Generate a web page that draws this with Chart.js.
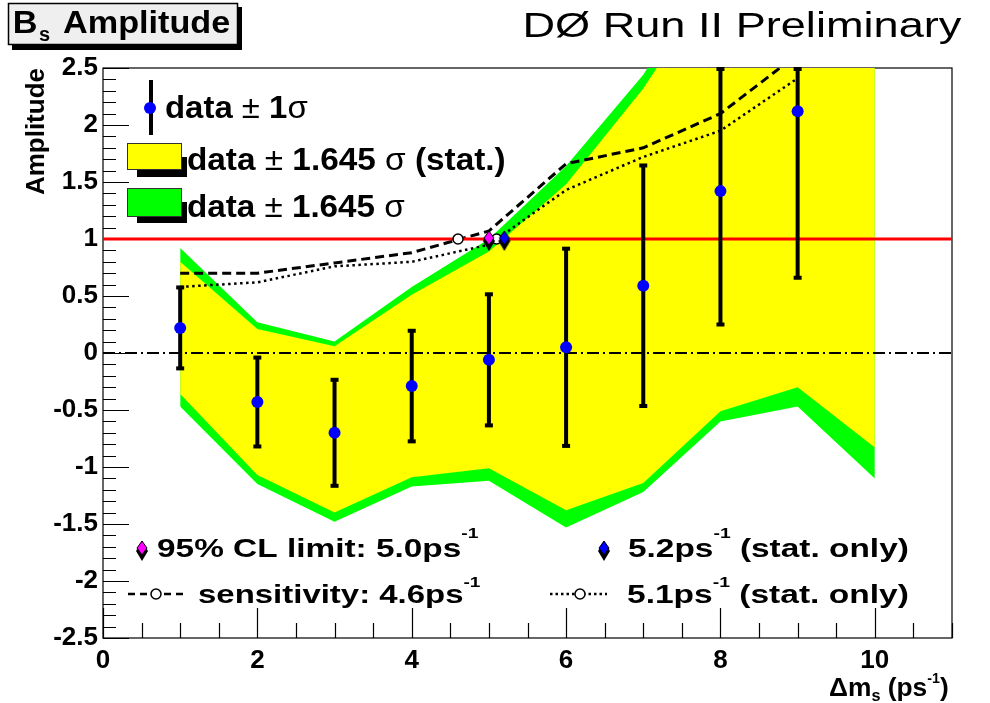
<!DOCTYPE html>
<html>
<head>
<meta charset="utf-8">
<script src="https://cdn.jsdelivr.net/npm/chart.js@4.4.1/dist/chart.umd.min.js"></script>
<style>
  html, body { margin: 0; padding: 0; background: #ffffff; }
  canvas { display: block; }
</style>
</head>
<body>
<canvas id="amp" width="990" height="703"></canvas>
<script>
// ---- measured amplitude scan, Bs oscillation (x in ps^-1) ----
const massPoints   = [1, 2, 3, 4, 5, 6, 7, 8, 9];
const amplitude    = [0.22, -0.43, -0.70, -0.29, -0.06, 0.05, 0.59, 1.42, 2.12];
const amplitudeErr = [0.355, 0.39, 0.465, 0.485, 0.575, 0.865, 1.055, 1.17, 1.46];

// 1.645 sigma bands (statistical only / total)
const bandPoints     = [1, 2, 3, 4, 5, 6, 7, 8, 9, 10];
const statBandUpper  = [0.80, 0.21, 0.06, 0.51, 0.89, 1.48, 2.32, 3.35, 4.52, 5.20];
const statBandLower  = [-0.36, -1.07, -1.40, -1.09, -1.01, -1.38, -1.14, -0.51, -0.30, -0.83];
const totalBandUpper = [0.92, 0.27, 0.10, 0.58, 1.00, 1.64, 2.44, 3.52, 4.74, 5.50];
const totalBandLower = [-0.47, -1.15, -1.48, -1.17, -1.12, -1.53, -1.22, -0.60, -0.47, -1.10];

// sensitivity curves (1.645 sigma)
const sensPoints       = [1, 2, 3, 4, 5, 6, 7, 8, 9];
const sensitivityTotal = [0.70, 0.70, 0.79, 0.88, 1.07, 1.66, 1.80, 2.10, 2.62];
const sensitivityStat  = [0.58, 0.62, 0.76, 0.80, 0.95, 1.43, 1.72, 1.95, 2.41];

// limits and sensitivities where the curves reach amplitude 1
const limitTotal = [5.0];
const limitStat  = [5.2];
const sensCross  = [4.6, 5.1];

// axis ranges
const xRange = [0, 11];
const yRange = [-2.5, 2.5];

const FONT = "'Liberation Sans', Arial, Helvetica, sans-serif";
const B = s => `bold ${s}px ${FONT}`;
const N = s => `${s}px ${FONT}`;

// diamond markers used for the limit points
function diamondMarker(fill) {
  const c = document.createElement('canvas');
  c.width = 14; c.height = 26;
  const g = c.getContext('2d');
  g.fillStyle = '#000';
  g.beginPath(); g.moveTo(7, 5); g.lineTo(13, 15); g.lineTo(7, 25); g.lineTo(1, 15); g.closePath(); g.fill();
  g.fillStyle = fill; g.strokeStyle = '#000'; g.lineWidth = 1;
  g.beginPath(); g.moveTo(7, 5); g.lineTo(12, 12); g.lineTo(7, 19); g.lineTo(2, 12); g.closePath(); g.fill(); g.stroke();
  return c;
}
const magentaMarker = diamondMarker('#ff00ff');
const blueMarker = diamondMarker('#0000ff');

const pts = (xs, ys) => xs.map((x, i) => ({ x, y: ys[i] }));

const errorBarPoints = [];
massPoints.forEach((x, i) => {
  errorBarPoints.push({ x, y: amplitude[i] - amplitudeErr[i] },
                      { x, y: amplitude[i] + amplitudeErr[i] },
                      { x, y: null });
});

// draws a sequence of text runs, stretched horizontally to a given ink width
function drawRuns(ctx, parts, left, base, inkWidth) {
  ctx.save();
  let total = 0;
  const ms = parts.map(p => { ctx.font = p[1]; const m = ctx.measureText(p[0]); total += m.width; return m; });
  const first = ms[0], last = ms[ms.length - 1];
  const ink = total - last.width + last.actualBoundingBoxRight + first.actualBoundingBoxLeft;
  const sx = inkWidth ? inkWidth / ink : 1;
  ctx.translate(left, base);
  ctx.scale(sx, 1);
  ctx.fillStyle = '#000';
  ctx.textAlign = 'left';
  ctx.textBaseline = 'alphabetic';
  let x = first.actualBoundingBoxLeft;
  parts.forEach((p, i) => {
    ctx.font = p[1];
    ctx.fillText(p[0], x, p[2] || 0);
    x += ms[i].width;
  });
  ctx.restore();
}

const framePlugin = {
  id: 'frame',
  beforeDatasetsDraw(chart) {
    const { ctx, chartArea: a, scales: { x, y } } = chart;
    ctx.save();
    ctx.strokeStyle = '#000';
    ctx.lineWidth = 1.2;
    ctx.strokeRect(a.left, a.top, a.right - a.left, a.bottom - a.top);
    ctx.beginPath();
    for (let k = 0; k <= 50; k++) {
      const v = yRange[0] + k * 0.1;
      const py = Math.round(y.getPixelForValue(v)) + 0.5;
      const len = k % 5 === 0 ? 26 : 13;
      ctx.moveTo(a.left, py); ctx.lineTo(a.left + len, py);
    }
    for (let k = 0; k <= 22; k++) {
      const v = k * 0.5;
      const px = Math.round(x.getPixelForValue(v)) + 0.5;
      const len = k % 4 === 0 ? 30 : 15;
      ctx.moveTo(px, a.bottom); ctx.lineTo(px, a.bottom - len);
    }
    ctx.stroke();
    ctx.restore();
  },
  afterDatasetsDraw(chart) {
    // end caps of error bars that leave the frame are drawn at its top edge
    const { ctx, chartArea: a, scales: { x, y } } = chart;
    ctx.save();
    ctx.fillStyle = '#000';
    massPoints.forEach((m, i) => {
      if (amplitude[i] + amplitudeErr[i] > yRange[1]) {
        const px = x.getPixelForValue(m);
        ctx.fillRect(px - 4, a.top - 1, 8, 4);
      }
    });
    ctx.restore();
  }
};

const annotationPlugin = {
  id: 'annotations',
  afterDraw(chart) {
    const ctx = chart.ctx;
    ctx.save();
    // title box
    ctx.fillStyle = '#000';
    ctx.fillRect(12, 7, 230, 43);
    ctx.fillStyle = '#efefef';
    ctx.fillRect(8, 3, 230, 42);
    ctx.strokeStyle = '#000'; ctx.lineWidth = 1.5;
    ctx.strokeRect(8.5, 3.5, 229, 41);
    drawRuns(ctx, [['B', B(31)]], 15, 33, 21);
    drawRuns(ctx, [['s', B(20)]], 39, 41, 11);
    drawRuns(ctx, [['Amplitude', B(31)]], 63, 33, 167);

    drawRuns(ctx, [['DØ Run II Preliminary', N(35)]], 525, 37, 437);

    // top legend
    ctx.strokeStyle = '#000'; ctx.lineWidth = 4;
    ctx.beginPath(); ctx.moveTo(151, 80); ctx.lineTo(151, 135); ctx.stroke();
    ctx.fillStyle = '#0000ff';
    ctx.beginPath(); ctx.arc(150, 108, 6, 0, Math.PI * 2); ctx.fill();
    drawRuns(ctx, [['data ', B(32)], ['±', N(32)], [' 1', B(32)], ['σ', N(32)]], 166, 118, 142);

    ctx.lineWidth = 1;
    ctx.fillStyle = '#000'; ctx.fillRect(137, 157, 50, 20);
    ctx.fillStyle = '#ffff00'; ctx.fillRect(127, 143, 55, 27);
    ctx.strokeStyle = '#333'; ctx.strokeRect(127.5, 143.5, 54, 26);
    drawRuns(ctx, [['data ', B(32)], ['±', N(32)], [' 1.645 ', B(32)], ['σ', N(32)], [' (stat.)', B(32)]], 188, 170, 317);

    ctx.fillStyle = '#000'; ctx.fillRect(137, 202, 50, 21);
    ctx.fillStyle = '#00ff00'; ctx.fillRect(127, 188, 55, 29);
    ctx.strokeStyle = '#333'; ctx.strokeRect(127.5, 188.5, 54, 28);
    drawRuns(ctx, [['data ', B(32)], ['±', N(32)], [' 1.645 ', B(32)], ['σ', N(32)]], 188, 217, 217);

    // bottom legend
    ctx.drawImage(magentaMarker, 142 - 7, 549 - 13);
    drawRuns(ctx, [['95% CL limit: 5.0ps', B(26)], ['-1', B(15), -19]], 157, 557, 321);
    ctx.drawImage(blueMarker, 604 - 7, 549 - 13);
    drawRuns(ctx, [['5.2ps', B(26)], ['-1', B(15), -19], [' (stat. only)', B(26)]], 628, 557, 280);

    ctx.strokeStyle = '#000'; ctx.lineWidth = 2.5; ctx.setLineDash([7, 5]);
    ctx.beginPath(); ctx.moveTo(128, 594); ctx.lineTo(188, 594); ctx.stroke();
    ctx.lineWidth = 2.5; ctx.setLineDash([2.5, 3]);
    ctx.beginPath(); ctx.moveTo(550, 594); ctx.lineTo(607, 594); ctx.stroke();
    ctx.setLineDash([]);
    ctx.lineWidth = 1.5; ctx.fillStyle = '#fff';
    [[156, 594], [580, 594]].forEach(([cx, cy]) => {
      ctx.beginPath(); ctx.arc(cx, cy, 5, 0, Math.PI * 2); ctx.fill(); ctx.stroke();
    });
    drawRuns(ctx, [['sensitivity: 4.6ps', B(26)], ['-1', B(15), -16]], 198, 603, 282);
    drawRuns(ctx, [['5.1ps', B(26)], ['-1', B(15), -16], [' (stat. only)', B(26)]], 627, 603, 281);

    // x-axis title
    drawRuns(ctx, [['Δm', B(26)], ['s', B(16), 5], [' (ps', B(26)], ['-1', B(14), -13], [')', B(26)]], 830, 696, 118);
    ctx.restore();
  }
};

const lineBase = { pointRadius: 0, fill: false, tension: 0 };
const tickLabel = v => String(Math.round(v * 10) / 10);

new Chart(document.getElementById('amp'), {
  type: 'line',
  data: {
    datasets: [
      { ...lineBase, data: pts(bandPoints, totalBandUpper), fill: '+1', backgroundColor: '#00ff00',
        borderColor: 'rgba(0,0,0,0)', borderWidth: 0, order: 100 },
      { ...lineBase, data: pts(bandPoints, totalBandLower), borderColor: 'rgba(0,0,0,0)', borderWidth: 0, order: 99 },
      { ...lineBase, data: pts(bandPoints, statBandUpper), fill: '+1', backgroundColor: '#ffff00',
        borderColor: 'rgba(0,0,0,0)', borderWidth: 0, order: 98 },
      { ...lineBase, data: pts(bandPoints, statBandLower), borderColor: 'rgba(0,0,0,0)', borderWidth: 0, order: 97 },
      // zero line
      { ...lineBase, data: pts(xRange, [0, 0]), borderColor: '#000', borderWidth: 2,
        borderDash: [12, 4, 2, 4], order: 60 },
      // sensitivity curves
      { ...lineBase, data: pts(sensPoints, sensitivityTotal), borderColor: '#000', borderWidth: 3,
        borderDash: [9, 5], order: 50 },
      { ...lineBase, data: pts(sensPoints, sensitivityStat), borderColor: '#000', borderWidth: 2.5,
        borderDash: [2.5, 3.5], order: 49 },
      // amplitude = 1
      { ...lineBase, data: pts(xRange, [1, 1]), borderColor: '#ff0000', borderWidth: 3, order: 40 },
      // error bars with end caps
      { data: errorBarPoints, borderColor: '#000', borderWidth: 4, spanGaps: false, fill: false,
        pointStyle: 'line', pointBorderColor: '#000', pointBorderWidth: 4,
        pointRadius: c => (c.raw && c.raw.y !== null ? 4 : 0), order: 30 },
      // measured amplitudes
      { data: pts(massPoints, amplitude), showLine: false, pointRadius: 6,
        pointBackgroundColor: '#0000ff', pointBorderColor: '#0000ff', pointBorderWidth: 0, order: 20 },
      // sensitivity crossings
      { data: sensCross.map(x => ({ x, y: 1 })), showLine: false, pointRadius: 5, pointStyle: 'circle',
        pointBackgroundColor: '#ffffff', pointBorderColor: '#000', pointBorderWidth: 1.5, order: 15 },
      // limits
      { data: limitTotal.map(x => ({ x, y: 1 })), showLine: false, pointStyle: magentaMarker, pointRadius: 7, order: 10 },
      { data: limitStat.map(x => ({ x, y: 1 })), showLine: false, pointStyle: blueMarker, pointRadius: 7, order: 9 }
    ]
  },
  options: {
    responsive: false,
    animation: false,
    events: [],
    layout: { padding: { top: 68, right: 38, left: 0, bottom: 0 } },
    plugins: { legend: { display: false }, tooltip: { enabled: false } },
    scales: {
      x: {
        type: 'linear', min: xRange[0], max: xRange[1],
        grid: { display: false, drawTicks: false }, border: { display: false },
        ticks: { stepSize: 2, includeBounds: false, padding: 7, color: '#000', callback: tickLabel,
                 font: { family: FONT, size: 26, weight: 'bold' } },
        afterFit: s => { s.height = 65; }
      },
      y: {
        type: 'linear', min: yRange[0], max: yRange[1],
        grid: { display: false, drawTicks: false }, border: { display: false },
        ticks: { stepSize: 0.5, padding: 5, color: '#000', callback: tickLabel,
                 font: { family: FONT, size: 26, weight: 'bold' } },
        title: { display: true, text: 'Amplitude', align: 'end', color: '#000',
                 font: { family: FONT, size: 26, weight: 'bold' }, padding: { top: 21, bottom: 0 } },
        afterFit: s => { s.width = 103; }
      }
    }
  },
  plugins: [framePlugin, annotationPlugin]
});
</script>
</body>
</html>
